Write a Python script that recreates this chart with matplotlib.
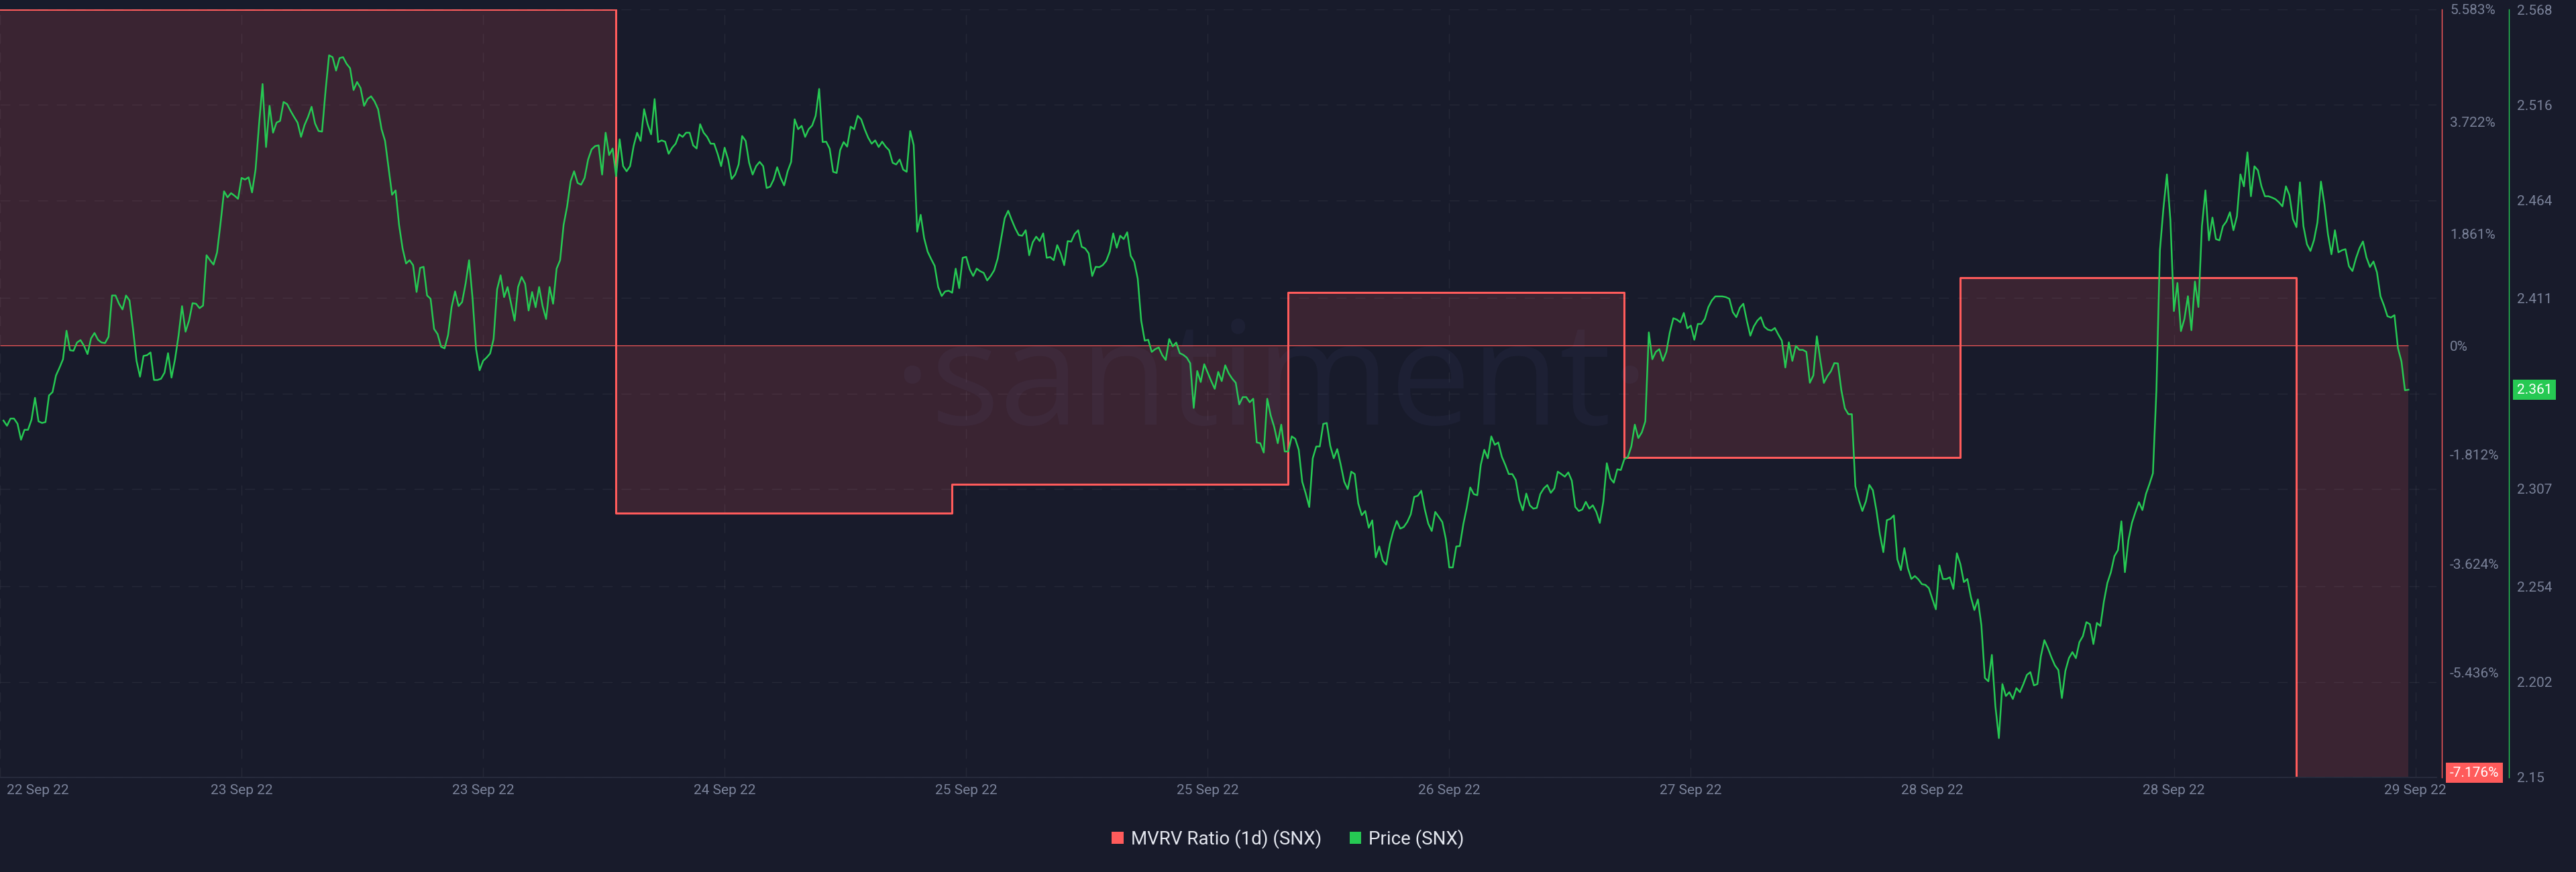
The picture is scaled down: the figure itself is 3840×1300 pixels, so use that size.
import matplotlib
matplotlib.use("Agg")
import matplotlib.pyplot as plt
import matplotlib.dates as mdates
import matplotlib.transforms as mtransforms
from matplotlib.patches import Patch
import numpy as np
import pandas as pd

# SNX price, 15 minute candles (close)
price_start = "2022-09-22 08:15"
price = [
    2.3442, 2.3414, 2.3453, 2.3453, 2.3425, 2.3338, 2.3392, 2.3392, 2.3447, 2.3566,
    2.3438, 2.3429, 2.3434, 2.3579, 2.3597, 2.3688, 2.3730, 2.3776, 2.3931, 2.3825,
    2.3822, 2.3867, 2.3880, 2.3849, 2.3804, 2.3889, 2.3919, 2.3882, 2.3867, 2.3864,
    2.3898, 2.4123, 2.4123, 2.4078, 2.4047, 2.4123, 2.4096, 2.3941, 2.3767, 2.3681,
    2.3794, 2.3798, 2.3813, 2.3663, 2.3663, 2.3670, 2.3703, 2.3809, 2.3676, 2.3776,
    2.3904, 2.4065, 2.3926, 2.3986, 2.4081, 2.4078, 2.4054, 2.4068, 2.4342, 2.4315,
    2.4291, 2.4357, 2.4516, 2.4690, 2.4657, 2.4680, 2.4666, 2.4649, 2.4763, 2.4754,
    2.4766, 2.4684, 2.4808, 2.5055, 2.5274, 2.4931, 2.5155, 2.5009, 2.5064, 2.5073,
    2.5176, 2.5165, 2.5128, 2.5095, 2.5064, 2.4986, 2.5051, 2.5095, 2.5150, 2.5059,
    2.5018, 2.5015, 2.5238, 2.5430, 2.5420, 2.5347, 2.5415, 2.5420, 2.5384, 2.5360,
    2.5241, 2.5285, 2.5252, 2.5155, 2.5192, 2.5207, 2.5179, 2.5137, 2.5028, 2.4964,
    2.4817, 2.4671, 2.4695, 2.4507, 2.4379, 2.4297, 2.4315, 2.4288, 2.4142, 2.4273,
    2.4279, 2.4123, 2.4105, 2.3941, 2.3913, 2.3844, 2.3835, 2.3908, 2.4059, 2.4145,
    2.4065, 2.4087, 2.4187, 2.4315, 2.4105, 2.3831, 2.3716, 2.3767, 2.3785, 2.3807,
    2.3886, 2.4156, 2.4233, 2.4114, 2.4169, 2.4078, 2.3986, 2.4169, 2.4224, 2.4187,
    2.4041, 2.4142, 2.4059, 2.4169, 2.4065, 2.3995, 2.4169, 2.4078, 2.4269, 2.4315,
    2.4507, 2.4607, 2.4744, 2.4799, 2.4735, 2.4726, 2.4763, 2.4863, 2.4918, 2.4936,
    2.4940, 2.4781,
    2.5009, 2.4887, 2.4923, 2.4772, 2.4973, 2.4827, 2.4799, 2.4827, 2.4936, 2.5009,
    2.4964, 2.5137, 2.5055, 2.5000, 2.5192, 2.4958, 2.4967, 2.4960, 2.4894, 2.4927,
    2.4949, 2.5000, 2.4986, 2.5009, 2.5009, 2.4940, 2.4923, 2.5055, 2.5009, 2.4986,
    2.4949, 2.4949, 2.4894, 2.4827, 2.4927, 2.4863, 2.4757, 2.4781, 2.4836, 2.4991,
    2.4964, 2.4845, 2.4781, 2.4827, 2.4850, 2.4827, 2.4708, 2.4715, 2.4754, 2.4821,
    2.4763, 2.4722, 2.4799, 2.4850, 2.5082, 2.5028, 2.5046, 2.4986, 2.5028, 2.5048,
    2.5101, 2.5247, 2.4958, 2.4960, 2.4922, 2.4796, 2.4790, 2.4914, 2.4958, 2.4933,
    2.5042, 2.5028, 2.5101, 2.5082, 2.5028, 2.4982, 2.4949, 2.4967, 2.4931, 2.4960,
    2.4933, 2.4913, 2.4845, 2.4836, 2.4863, 2.4808, 2.4796, 2.5018, 2.4942, 2.4470,
    2.4562, 2.4434, 2.4361, 2.4321, 2.4284, 2.4169, 2.4120, 2.4145, 2.4149, 2.4138,
    2.4269, 2.4163, 2.4328, 2.4333, 2.4266, 2.4229, 2.4269, 2.4255, 2.4246, 2.4205,
    2.4229, 2.4260, 2.4324, 2.4434, 2.4543, 2.4584, 2.4534, 2.4489, 2.4452, 2.4448,
    2.4478, 2.4342, 2.4412, 2.4443, 2.4419, 2.4461, 2.4328, 2.4332, 2.4315, 2.4397,
    2.4352, 2.4288, 2.4419, 2.4416, 2.4458, 2.4478, 2.4388, 2.4379, 2.4352, 2.4229,
    2.4279, 2.4277, 2.4288, 2.4311, 2.4361, 2.4461, 2.4383, 2.4448, 2.4430, 2.4467,
    2.4339, 2.4306, 2.4215, 2.3986, 2.3877, 2.3882, 2.3816, 2.3831, 2.3840, 2.3798,
    2.3772, 2.3886, 2.3846, 2.3867, 2.3809, 2.3800, 2.3785, 2.3754, 2.3511, 2.3712,
    2.3652, 2.3749, 2.3703,
    2.3657, 2.3615, 2.3707, 2.3657, 2.3743, 2.3699, 2.3670, 2.3648, 2.3530,
    2.3570, 2.3570, 2.3542, 2.3561, 2.3323, 2.3319, 2.3268, 2.3561, 2.3469, 2.3407,
    2.3319, 2.3420, 2.3274, 2.3274, 2.3356, 2.3343, 2.3283, 2.3109, 2.3045, 2.2972,
    2.3237, 2.3301, 2.3301, 2.3424, 2.3429, 2.3305, 2.3237, 2.3287, 2.3201, 2.3109,
    2.3069, 2.3164, 2.3151, 2.2991, 2.2927, 2.2950, 2.2859, 2.2899, 2.2698, 2.2757,
    2.2680, 2.2658, 2.2768, 2.2841, 2.2896, 2.2854, 2.2863, 2.2890, 2.2932, 2.3027,
    2.3033, 2.3060, 2.2960, 2.2881, 2.2841, 2.2945, 2.2918, 2.2890, 2.2799, 2.2643,
    2.2643, 2.2757, 2.2759, 2.2877, 2.2969, 2.3078, 2.3042, 2.3036, 2.3201, 2.3283,
    2.3237, 2.3356, 2.3310, 2.3323, 2.3246, 2.3201, 2.3151, 2.3151, 2.3118, 2.3009,
    2.2954, 2.3045, 2.2981, 2.2963, 2.2967, 2.3042, 2.3073, 2.3091, 2.3049, 2.3073,
    2.3164, 2.3151, 2.3137, 2.3160, 2.3115, 2.2972, 2.2950, 2.2958, 2.3000, 2.2963,
    2.2981, 2.2945, 2.2885, 2.3000, 2.3210, 2.3128, 2.3104, 2.3177, 2.3173, 2.3232,
    2.3243, 2.3301, 2.3420, 2.3347, 2.3378, 2.3438, 2.3922, 2.3776, 2.3816,
    2.3831, 2.3767, 2.3816, 2.3922, 2.3999, 2.3992, 2.3977, 2.4028, 2.3944, 2.3959,
    2.3882, 2.3968, 2.3968, 2.3995, 2.4059, 2.4096, 2.4118, 2.4118, 2.4118, 2.4114,
    2.4105, 2.4032, 2.4005, 2.4056, 2.4078, 2.3986, 2.3904, 2.3955, 2.3986, 2.4005,
    2.3953, 2.3937, 2.3932, 2.3946, 2.3910, 2.3877, 2.3731, 2.3868, 2.3767, 2.3849,
    2.3827, 2.3827, 2.3816, 2.3648,
    2.3688, 2.3901, 2.3771, 2.3647, 2.3684, 2.3710, 2.3755, 2.3753, 2.3607,
    2.3509, 2.3477, 2.3477, 2.3085, 2.3009, 2.2950, 2.3002, 2.3092, 2.3063, 2.2955,
    2.2824, 2.2726, 2.2900, 2.2907, 2.2926, 2.2687, 2.2628, 2.2748, 2.2639, 2.2580,
    2.2596, 2.2578, 2.2552, 2.2548, 2.2530, 2.2471, 2.2415, 2.2654, 2.2580, 2.2580,
    2.2589, 2.2526, 2.2720, 2.2661, 2.2563, 2.2580, 2.2482, 2.2411, 2.2469, 2.2328,
    2.2041, 2.2023, 2.2167, 2.1888, 2.1714, 2.2008, 2.1943, 2.1964, 2.1927, 2.1986,
    2.1964, 2.2008, 2.2058, 2.2073, 2.2001, 2.2008, 2.2160, 2.2247, 2.2204, 2.2154,
    2.2110, 2.2084, 2.1932, 2.2080, 2.2149, 2.2182, 2.2149, 2.2236, 2.2269, 2.2345,
    2.2334, 2.2226, 2.2341, 2.2324, 2.2458, 2.2559, 2.2617, 2.2704, 2.2737, 2.2894,
    2.2617, 2.2791, 2.2885, 2.2944, 2.2998, 2.2955, 2.3042, 2.3096, 2.3155, 2.3607,
    2.4369, 2.4597, 2.4782, 2.4532, 2.4038, 2.4191, 2.3929, 2.3995, 2.4119, 2.3934,
    2.4199, 2.4060, 2.4500, 2.4695, 2.4423, 2.4547, 2.4430, 2.4423, 2.4500, 2.4526,
    2.4576, 2.4478, 2.4554, 2.4782, 2.4717, 2.4902, 2.4663, 2.4826, 2.4804, 2.4717,
    2.4663, 2.4663, 2.4656, 2.4647, 2.4630, 2.4608, 2.4717, 2.4669, 2.4539, 2.4495,
    2.4739, 2.4500, 2.4402, 2.4365, 2.4423, 2.4521, 2.4743, 2.4619, 2.4456,
    2.4347, 2.4478, 2.4358, 2.4369, 2.4375, 2.4282, 2.4256, 2.4325, 2.4380, 2.4417,
    2.4330, 2.4278, 2.4308, 2.4249, 2.4119, 2.4069, 2.4010, 2.4003, 2.4016, 2.3836,
    2.3764, 2.3607, 2.361,
]

# daily MVRV (%) and the time each value starts
mvrv_starts = ["2022-09-22 08:00", "2022-09-24 04:00", "2022-09-25 04:00",
               "2022-09-26 04:00", "2022-09-27 04:00", "2022-09-28 04:00",
               "2022-09-29 04:00"]
mvrv = [5.583, -2.786, -2.301, 0.875, -1.866, 1.121, -7.176]

mvrv_ticks = [5.583, 3.722, 1.861, 0, -1.812, -3.624, -5.436]
price_ticks = [2.15, 2.202, 2.254, 2.307, 2.359, 2.411, 2.464, 2.516, 2.568]
price_labels = ["2.15", "2.202", "2.254", "2.307", "", "2.411", "2.464", "2.516", "2.568"]
series_names = ["MVRV Ratio (1d) (SNX)", "Price (SNX)"]
view_start = "2022-09-22 08:00"

BG = "#181b2b"
RED = "#ff5b5b"
GREEN = "#26c953"
GREY = "#7a8299"

plt.rcParams["font.family"] = ["Roboto", "DejaVu Sans"]
plt.rcParams["lines.scale_dashes"] = False
dash = (0, (10.8, 9.4))

times = pd.date_range(price_start, periods=len(price), freq="15min")
edges = list(pd.to_datetime(mvrv_starts)) + [times[-1]]
mvrv_y = mvrv + [mvrv[-1]]
t0 = pd.Timestamp(view_start)

fig = plt.figure(figsize=(38.4, 13), dpi=100, facecolor=BG)
ax = fig.add_axes([0, 141 / 1300, 3632 / 3840, 1145 / 1300])
ax.set_facecolor(BG)

# mvrv steps
ax.fill_between(edges, 0, mvrv_y, step="post", color=RED, alpha=0.15, lw=0)
ax.step(edges, mvrv_y, where="post", color=RED, lw=2.2)
ax.hlines(0, edges[0], edges[-1], color=RED, lw=0.8)
ax.set_ylim(mvrv[-1], mvrv[0])
ax.set_xlim(t0, t0 + pd.Timedelta(hours=174))

ax2 = ax.twinx()
ax2.plot(times, price, color=GREEN, lw=1.8, zorder=3)
ax2.set_ylim(price_ticks[0], price_ticks[-1])

# grid
ax.grid(axis="x", color="white", alpha=0.06, lw=1, linestyle=dash)
ax2.grid(axis="y", color="white", alpha=0.06, lw=1, linestyle=dash)
ax2.set_axisbelow(True)

ticks = pd.date_range(view_start, periods=11, freq="1035min")
ax.set_xticks(ticks)
ax.xaxis.set_major_formatter(mdates.DateFormatter("%d %b %y"))
ax.tick_params(axis="x", length=0, pad=7, labelcolor=GREY, labelsize=15)
first = ax.get_xticklabels()[0]
first.set_horizontalalignment("left")
first.set_transform(first.get_transform()
                    + mtransforms.ScaledTranslation(0.1, 0, fig.dpi_scale_trans))

ax.yaxis.tick_right()
ax.set_yticks(mvrv_ticks, [f"{v:g}%" for v in mvrv_ticks])
ax.tick_params(axis="y", length=0, pad=8.6, labelcolor=GREY, labelsize=15)
ax2.set_yticks(price_ticks, price_labels)
ax2.tick_params(axis="y", length=0, pad=8.6, labelcolor=GREY, labelsize=15)

for s in ["top", "left"]:
    ax.spines[s].set_visible(False)
    ax2.spines[s].set_visible(False)
ax2.spines["bottom"].set_visible(False)
ax.spines["bottom"].set_color("#262a3b")
ax.spines["bottom"].set_linewidth(1.5)
ax.spines["right"].set_color(RED)
ax.spines["right"].set_linewidth(1.0)
ax.spines["right"].set_position(("axes", 3640 / 3632))
ax2.spines["right"].set_color(GREEN)
ax2.spines["right"].set_linewidth(1.0)
ax2.spines["right"].set_position(("axes", 3740 / 3632))

# last value boxes
ax2.text(3752 / 3632, price[-1], f"{price[-1]:.3f}", transform=ax2.get_yaxis_transform(),
         ha="left", va="center", color="white", fontsize=15,
         bbox=dict(boxstyle="square,pad=0.28", fc=GREEN, ec="none"))
ax.annotate(f"{mvrv[-1]:.3f}%", xy=(3652 / 3632, mvrv[-1]), xycoords=ax.get_yaxis_transform(),
            xytext=(0, 5), textcoords="offset points", ha="left", va="center",
            color="white", fontsize=15,
            bbox=dict(boxstyle="square,pad=0.28", fc=RED, ec="none"))

# watermark
fig.text(1895 / 3840, (1300 - 633) / 1300, "\u00b7santiment\u00b7", ha="center", va="baseline",
         fontsize=155, family=["Open Sans", "DejaVu Sans"], color=(0.55, 0.6, 1.0), alpha=0.045)

handles = [Patch(facecolor=RED), Patch(facecolor=GREEN)]
fig.legend(handles, series_names, loc="center", bbox_to_anchor=(0.5, 49 / 1300), ncol=2,
           frameon=False, fontsize=20, labelcolor="#e3e6ee", handlelength=0.62,
           handleheight=0.65, handletextpad=0.4, columnspacing=1.5)

fig.savefig("out.png", dpi=100, facecolor=BG)
